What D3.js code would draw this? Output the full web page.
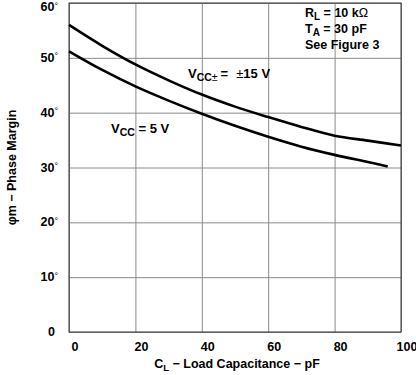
<!DOCTYPE html>
<html>
<head>
<meta charset="utf-8">
<script src="https://cdn.jsdelivr.net/npm/d3@7"></script>
<style>
    body { margin: 0; background: #fff; }
    svg { font-family: "Liberation Sans", Arial, sans-serif; font-weight: bold; }
    .grid line { stroke: #8a8a8a; stroke-width: 1; }
    .grid path { display: none; }
    .curve { fill: none; stroke: #000; stroke-width: 2.6; }
</style>
</head>
<body>
<svg id="chart" width="416" height="375"></svg>
<script>
// load capacitance (pF) and phase margin (deg)
var capDual = [0, 10, 20, 30, 40, 50, 60, 70, 80, 90, 100];
var marginDual = [56, 52.2, 48.8, 45.9, 43.3, 41.1, 39.2, 37.4, 35.8, 34.9, 34.0];

var cap5 = [0, 10, 20, 30, 40, 50, 60, 70, 80, 90, 96];
var margin5 = [51.2, 47.8, 44.8, 42.2, 39.8, 37.6, 35.6, 33.8, 32.3, 31.0, 30.2];

var xTicks = [0, 20, 40, 60, 80, 100];
var yTicks = [0, 10, 20, 30, 40, 50, 60];

var svg = d3.select("#chart");

var margin = {top: 3, right: 15, bottom: 43, left: 69},
    width = 416 - margin.left - margin.right,
    height = 375 - margin.top - margin.bottom;

var xScale = d3.scaleLinear().domain([0, 100]).range([0, width]),
    yScale = d3.scaleLinear().domain([0, 60]).range([height, 0]);

var g = svg.append("g")
    .attr("transform", "translate(" + margin.left + "," + margin.top + ")");

// gridlines
g.append("g")
    .attr("class", "grid")
    .attr("transform", "translate(0," + height + ")")
    .call(d3.axisBottom(xScale).tickValues(xTicks).tickSize(-height).tickFormat(""));

g.append("g")
    .attr("class", "grid")
    .call(d3.axisLeft(yScale).tickValues(yTicks).tickSize(-width).tickFormat(""));

// frame
g.append("rect")
    .attr("width", width)
    .attr("height", height)
    .attr("fill", "none")
    .attr("stroke", "#333")
    .attr("stroke-width", 1);

// tick labels
g.selectAll(".xlabel")
    .data(xTicks)
    .enter()
    .append("text")
    .attr("class", "xlabel")
    .attr("x", function(d) { return xScale(d) + 6; })
    .attr("y", height + 19)
    .attr("text-anchor", "middle")
    .style("font-size", "12.5px")
    .text(function(d) { return d; });

var ylab = g.selectAll(".ylabel")
    .data(yTicks)
    .enter()
    .append("text")
    .attr("class", "ylabel")
    .attr("x", function(d) { return d === 0 ? -14 : -11; })
    .attr("y", function(d) { return d === 60 ? yScale(d) + 8 : yScale(d) + 4; })
    .attr("text-anchor", "end")
    .style("font-size", "12.5px");

ylab.append("tspan").text(function(d) { return d; });

ylab.filter(function(d) { return d !== 0; })
    .append("tspan")
    .attr("dy", "-2.5")
    .style("font-weight", "normal")
    .style("font-size", "9px")
    .text("°");

// axis titles
var xt = svg.append("text")
    .attr("x", 237)
    .attr("y", 368)
    .attr("text-anchor", "middle")
    .style("font-size", "12.5px");
xt.append("tspan").text("C");
xt.append("tspan").attr("dy", 3).style("font-size", "9.5px").text("L");
xt.append("tspan").attr("dy", -3).text(" − Load Capacitance − pF");

svg.append("text")
    .attr("transform", "translate(16," + (margin.top + height / 2) + ") rotate(-90)")
    .attr("text-anchor", "middle")
    .style("font-size", "12.5px")
    .text("φm − Phase Margin");

// curves
var line = d3.line()
    .x(function(d) { return xScale(d[0]); })
    .y(function(d) { return yScale(d[1]); })
    .curve(d3.curveCatmullRom);

g.append("path")
    .attr("class", "curve")
    .attr("d", line(d3.zip(capDual, marginDual)));

g.append("path")
    .attr("class", "curve")
    .attr("d", line(d3.zip(cap5, margin5)));

// curve labels
var l1 = svg.append("text")
    .attr("x", 188)
    .attr("y", 78)
    .style("font-size", "13px");
l1.append("tspan").text("V");
l1.append("tspan").attr("dy", 3).style("font-size", "10.5px").text("CC");
l1.append("tspan").style("font-size", "10.5px").style("font-weight", "normal").text("±");
l1.append("tspan").attr("dy", -3).attr("dx", 3).text("=");
l1.append("tspan").attr("dx", 8).style("font-weight", "normal").text("±");
l1.append("tspan").text("15 V");

var l2 = svg.append("text")
    .attr("x", 111)
    .attr("y", 133)
    .style("font-size", "13px");
l2.append("tspan").text("V");
l2.append("tspan").attr("dy", 3).style("font-size", "10.5px").text("CC");
l2.append("tspan").attr("dy", -3).text(" = 5 V");

// conditions box
var c1 = svg.append("text").attr("x", 305).attr("y", 17).style("font-size", "12.5px");
c1.append("tspan").text("R");
c1.append("tspan").attr("dy", 3).style("font-size", "10px").text("L");
c1.append("tspan").attr("dy", -3).text(" = 10 k");
c1.append("tspan").style("font-weight", "normal").text("Ω");

var c2 = svg.append("text").attr("x", 305).attr("y", 33).style("font-size", "12.5px");
c2.append("tspan").text("T");
c2.append("tspan").attr("dy", 3).style("font-size", "10px").text("A");
c2.append("tspan").attr("dy", -3).text(" = 30 pF");

svg.append("text").attr("x", 305).attr("y", 49).style("font-size", "12.5px").text("See Figure 3");
</script>
</body>
</html>
